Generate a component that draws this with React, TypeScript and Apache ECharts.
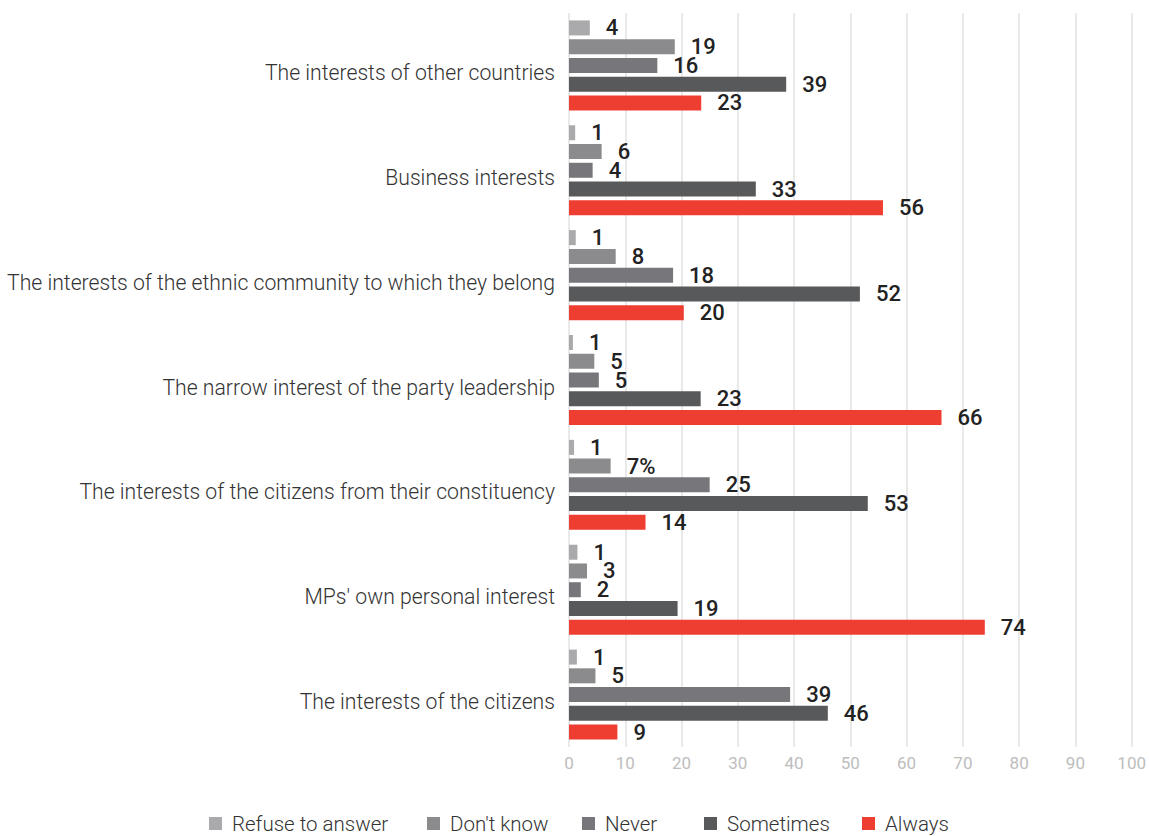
import React, { useEffect, useRef } from "react";
import * as echarts from "echarts";

const categories = [
  "The interests of other countries",
  "Business interests",
  "The interests of the ethnic community to which they belong",
  "The narrow interest of the party leadership",
  "The interests of the citizens from their constituency",
  "MPs' own personal interest",
  "The interests of the citizens",
];

const seriesNames = ["Refuse to answer", "Don't know", "Never", "Sometimes", "Always"];
const seriesColors = ["#aaaaac", "#8b8b8e", "#77777b", "#58595b", "#ee3d31"];
const legendLefts = [209, 427, 582, 704, 862];

const refuseValues = [3.7, 1.1, 1.2, 0.7, 0.9, 1.5, 1.4];
const dontKnowValues = [18.8, 5.8, 8.3, 4.5, 7.4, 3.2, 4.7];
const neverValues = [15.7, 4.2, 18.5, 5.3, 25.0, 2.1, 39.3];
const sometimesValues = [38.6, 33.2, 51.7, 23.4, 53.1, 19.3, 46.0];
const alwaysValues = [23.5, 55.8, 20.4, 66.2, 13.6, 73.9, 8.6];

const refuseLabels = ["4", "1", "1", "1", "1", "1", "1"];
const dontKnowLabels = ["19", "6", "8", "5", "7%", "3", "5"];
const neverLabels = ["16", "4", "18", "5", "25", "2", "39"];
const sometimesLabels = ["39", "33", "52", "23", "53", "19", "46"];
const alwaysLabels = ["23", "56", "20", "66", "14", "74", "9"];

const xTicks = [0, 100, 10];

const allValues = [refuseValues, dontKnowValues, neverValues, sometimesValues, alwaysValues];
const allLabels = [refuseLabels, dontKnowLabels, neverLabels, sometimesLabels, alwaysLabels];

export default function App() {
  const ref = useRef<HTMLDivElement>(null);
  useEffect(() => {
    if (!ref.current) return;
    const chart = echarts.init(ref.current, undefined, { renderer: "svg" });
    chart.setOption({
      animation: false,
      textStyle: { fontFamily: "Roboto" },
      grid: { left: 569, right: 15, top: 13, bottom: 89, containLabel: false },
      legend: seriesNames.map((name, i) => ({
        top: 813,
        left: legendLefts[i],
        padding: 0,
        itemWidth: 13,
        itemHeight: 13,
        icon: "rect",
        textStyle: {
          fontSize: 20.5,
          lineHeight: 20,
          color: "#333",
          fontFamily: "Roboto",
          fontWeight: 300,
          padding: [0, 0, 0, 5],
        },
        data: [name],
      })),
      xAxis: {
        type: "value",
        min: xTicks[0],
        max: xTicks[1],
        interval: xTicks[2],
        axisLine: { show: false },
        axisTick: { show: false },
        axisLabel: { color: "#bdbdbd", fontSize: 17, margin: 7 },
        splitLine: { lineStyle: { color: "#e2e2e2", width: 1.5 } },
      },
      yAxis: {
        type: "category",
        inverse: true,
        data: categories,
        axisLine: { show: false },
        axisTick: { show: false },
        axisLabel: {
          color: "#333",
          fontSize: 21.2,
          fontWeight: 300,
          margin: 14,
          verticalAlign: "top",
          lineHeight: 14,
        },
      },
      series: seriesNames.map((name, i) => ({
        name,
        type: "bar",
        barWidth: 15,
        barGap: "25%",
        itemStyle: { color: seriesColors[i] },
        label: {
          show: true,
          position: "right",
          distance: 16,
          color: "#222",
          fontSize: 22,
          fontWeight: 500,
          formatter: (p: any) => allLabels[i][p.dataIndex],
        },
        data: allValues[i],
      })),
    });
    return () => chart.dispose();
  }, []);
  return (
    <div
      ref={ref}
      style={{ position: "fixed", left: 0, top: 0, width: 1149, height: 836, background: "#fff" }}
    />
  );
}
